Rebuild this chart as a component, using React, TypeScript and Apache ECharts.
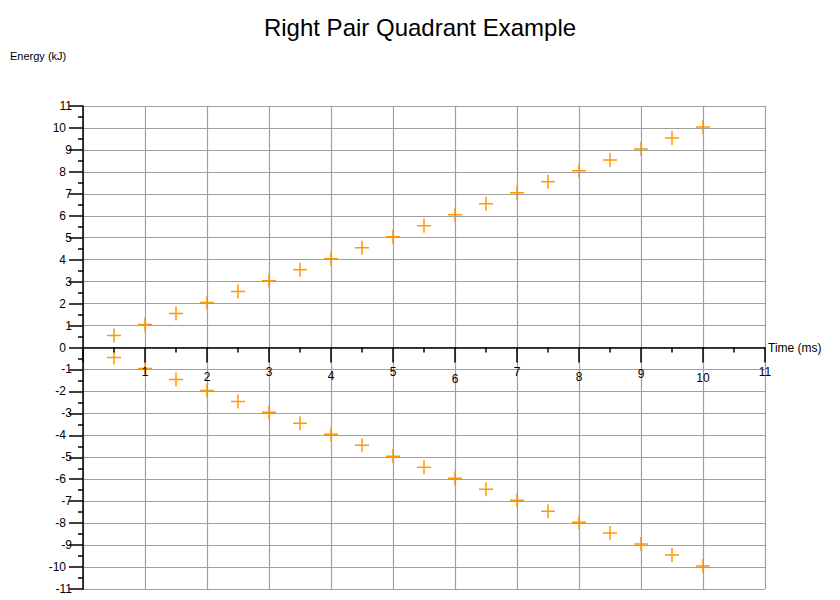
import React, { useEffect, useRef } from "react";
import * as echarts from "echarts";

const upperSeries: [number, number][] = [
  [0.5, 0.5], [1, 1], [1.5, 1.5], [2, 2], [2.5, 2.5], [3, 3], [3.5, 3.5], [4, 4],
  [4.5, 4.5], [5, 5], [5.5, 5.5], [6, 6], [6.5, 6.5], [7, 7], [7.5, 7.5], [8, 8],
  [8.5, 8.5], [9, 9], [9.5, 9.5], [10, 10],
];
const lowerSeries: [number, number][] = [
  [0.5, -0.5], [1, -1], [1.5, -1.5], [2, -2], [2.5, -2.5], [3, -3], [3.5, -3.5], [4, -4],
  [4.5, -4.5], [5, -5], [5.5, -5.5], [6, -6], [6.5, -6.5], [7, -7], [7.5, -7.5], [8, -8],
  [8.5, -8.5], [9, -9], [9.5, -9.5], [10, -10],
];
const xTickLabels = ["", "1", "2", "3", "4", "5", "6", "7", "8", "9", "10", "11"];
const xLabelDrop = [0, 0, 5, 0, 4, 0, 7, 0, 5, 2, 6, 0];

const FONT = "'Liberation Sans', Arial, sans-serif";
const ORANGE = "#ff9900";
const GRID = "#a0a0a0";

export default function App() {
  const ref = useRef<HTMLDivElement>(null);
  useEffect(() => {
    if (!ref.current) return;
    const chart = echarts.init(ref.current, undefined, { renderer: "svg" });
    const xRich: Record<string, any> = {};
    xLabelDrop.forEach((d, i) => {
      xRich["x" + i] = { padding: [d, 0, 0, 0], fontSize: 12, color: "#000", fontFamily: FONT };
    });
    const marker = "path://M7,0L7,14M0,7L14,7";
    const plotTop = 106;
    const plotBottom = 589;
    const zeroOffset = -(plotBottom - plotTop) / 2;
    chart.setOption({
      animation: false,
      textStyle: { fontFamily: FONT },
      title: {
        text: "Right Pair Quadrant Example",
        left: "center",
        top: 10,
        textStyle: { fontSize: 24, fontWeight: "normal", color: "#000", fontFamily: FONT },
      },
      graphic: [
        {
          type: "text",
          left: 10,
          top: 50,
          style: { text: "Energy (kJ)", fontSize: 11, fill: "#000", fontFamily: FONT },
        },
      ],
      grid: {
        left: 83,
        right: 75,
        top: plotTop,
        bottom: 600 - plotBottom,
        containLabel: false,
        outerBoundsMode: "none",
      },
      xAxis: {
        type: "value",
        min: 0,
        max: 11,
        interval: 1,
        z: 3,
        position: "bottom",
        offset: zeroOffset,
        name: "Time (ms)",
        nameLocation: "end",
        nameGap: 3,
        nameTextStyle: { fontSize: 12, color: "#000", fontFamily: FONT, align: "left", verticalAlign: "middle" },
        axisLine: { onZero: false, lineStyle: { color: "#000", width: 1.5 } },
        axisTick: { show: true, length: 15, lineStyle: { color: "#000", width: 1.5 } },
        minorTick: { show: true, splitNumber: 2, length: 5, lineStyle: { color: "#000", width: 1.5 } },
        axisLabel: {
          margin: 18,
          showMinLabel: false,
          formatter: (v: number) => {
            const i = Math.round(v);
            const t = xTickLabels[i] ?? "";
            return t ? `{x${i}|${t}}` : "";
          },
          rich: xRich,
          fontSize: 12,
          color: "#000",
        },
        splitLine: { show: true, lineStyle: { color: GRID, width: 1.2 } },
      },
      yAxis: {
        type: "value",
        min: -11,
        max: 11,
        interval: 1,
        z: 3,
        axisLine: { onZero: false, lineStyle: { color: "#000", width: 1.5 } },
        axisTick: { show: true, length: 14, lineStyle: { color: "#000", width: 1.5 } },
        minorTick: { show: true, splitNumber: 2, length: 5, lineStyle: { color: "#000", width: 1.5 } },
        axisLabel: {
          margin: 2,
          formatter: (v: number) => {
            const odd = Math.abs(Math.round(v)) % 2 === 1;
            return odd ? `{o|${v}}` : `{e|${v}}`;
          },
          rich: {
            o: { padding: [0, 9, 0, 0], fontSize: 12, color: "#000", fontFamily: FONT },
            e: { padding: [0, 15, 0, 0], fontSize: 12, color: "#000", fontFamily: FONT },
          },
          fontSize: 12,
          color: "#000",
        },
        splitLine: { show: true, lineStyle: { color: GRID, width: 1.2 } },
      },
      series: [
        {
          type: "scatter",
          z: 1,
          data: upperSeries,
          symbol: marker,
          symbolSize: 14,
          symbolOffset: [0, -1],
          itemStyle: { color: "none", borderColor: ORANGE, borderWidth: 1.5, opacity: 1 },
        },
        {
          type: "scatter",
          z: 1,
          data: lowerSeries,
          symbol: marker,
          symbolSize: 14,
          symbolOffset: [0, -1],
          itemStyle: { color: "none", borderColor: ORANGE, borderWidth: 1.5, opacity: 1 },
        },
      ],
    });
    return () => chart.dispose();
  }, []);
  return (
    <div
      ref={ref}
      style={{ position: "fixed", left: 0, top: 0, width: 840, height: 600, background: "#fff" }}
    />
  );
}
